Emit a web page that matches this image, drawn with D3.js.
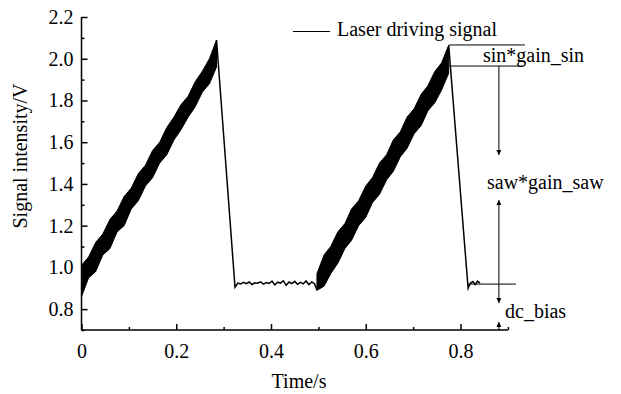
<!DOCTYPE html>
<html>
<head>
<meta charset="utf-8">
<script src="https://cdn.jsdelivr.net/npm/d3@7"></script>
<style>
  body { margin: 0; background: #fff; }
  text { font-family: "Liberation Serif", "Times New Roman", serif; }
</style>
</head>
<body>
<div id="chart"></div>
<script>
// Size of the picture
const width = 621;
const height = 394;

// ramp 1: rising band (upper / lower envelope of the noisy signal)
const ramp1Time  = [0, 0.015, 0.03, 0.045, 0.06, 0.075, 0.09, 0.105, 0.12, 0.135,
  0.15, 0.165, 0.18, 0.195, 0.21, 0.225, 0.24, 0.255, 0.27, 0.285];
const ramp1Upper = [1.01, 1.05, 1.12, 1.16, 1.23, 1.27, 1.34, 1.38, 1.45, 1.49,
  1.56, 1.60, 1.67, 1.72, 1.78, 1.82, 1.89, 1.94, 2.00, 2.09];
const ramp1Lower = [0.86, 0.95, 0.98, 1.06, 1.09, 1.17, 1.20, 1.28, 1.32, 1.39,
  1.43, 1.50, 1.54, 1.61, 1.66, 1.72, 1.77, 1.84, 1.88, 1.96];

// ramp 2
const ramp2Time  = [0.497, 0.512, 0.526, 0.541, 0.556, 0.570, 0.585, 0.600, 0.614, 0.629,
  0.644, 0.658, 0.673, 0.687, 0.702, 0.717, 0.731, 0.746, 0.760, 0.775];
const ramp2Upper = [0.97, 1.06, 1.10, 1.17, 1.21, 1.28, 1.32, 1.39, 1.43, 1.50,
  1.54, 1.61, 1.65, 1.72, 1.76, 1.83, 1.87, 1.94, 1.98, 2.065];
const ramp2Lower = [0.89, 0.91, 0.97, 1.02, 1.09, 1.13, 1.20, 1.24, 1.31, 1.35,
  1.42, 1.46, 1.53, 1.57, 1.64, 1.68, 1.75, 1.79, 1.85, 1.93];

// fall + flat part after ramp 1
const flat1Time = [0.285, 0.324, 0.330, 0.336, 0.342, 0.348, 0.354, 0.360, 0.366, 0.372, 0.378, 0.384, 0.390, 0.396, 0.402,
  0.408, 0.414, 0.420, 0.426, 0.432, 0.438, 0.444, 0.450, 0.456, 0.462, 0.468, 0.474, 0.480, 0.486, 0.492, 0.497];
const flat1Value = [2.09, 0.905, 0.925, 0.921, 0.928, 0.922, 0.930, 0.918, 0.926, 0.924, 0.931, 0.920, 0.927, 0.923, 0.934,
  0.916, 0.929, 0.925, 0.936, 0.914, 0.930, 0.922, 0.933, 0.919, 0.928, 0.921, 0.935, 0.917, 0.930, 0.922, 0.89];

// fall + flat part after ramp 2
const flat2Time  = [0.775, 0.816, 0.821, 0.826, 0.831, 0.836, 0.841];
const flat2Value = [2.065, 0.90, 0.925, 0.932, 0.918, 0.934, 0.925];

// axis ticks
const xTicks = [0, 0.2, 0.4, 0.6, 0.8];
const xMinorTicks = [0.1, 0.3, 0.5, 0.7, 0.9];
const yTicks = [0.8, 1.0, 1.2, 1.4, 1.6, 1.8, 2.0, 2.2];
const yMinorTicks = [0.7, 0.9, 1.1, 1.3, 1.5, 1.7, 1.9, 2.1];

const legendLabel = "Laser driving signal";

const svg = d3.select("#chart")
  .append("svg")
  .attr("width", width)
  .attr("height", height)
  .style("background-color", "#fff");

const x = d3.scaleLinear().domain([0, 0.9]).range([81.5, 507.9]);
const y = d3.scaleLinear().domain([0.7, 2.2]).range([330, 17]);

// markers for arrows
const defs = svg.append("defs");
defs.append("marker")
  .attr("id", "arrow")
  .attr("viewBox", "0 0 10 10")
  .attr("refX", 10).attr("refY", 5)
  .attr("markerWidth", 6).attr("markerHeight", 5)
  .attr("markerUnits", "userSpaceOnUse")
  .attr("orient", "auto-start-reverse")
  .append("path")
  .attr("d", "M0,0 L10,5 L0,10 Z")
  .attr("fill", "#000");

// ramps (filled bands)
function drawBand(times, upper, lower) {
  const rows = times.map((t, i) => ({ t: t, hi: upper[i], lo: lower[i] }));
  svg.append("path")
    .datum(rows)
    .attr("d", d3.area()
      .x(d => x(d.t))
      .y0(d => y(d.lo))
      .y1(d => y(d.hi)))
    .attr("fill", "#000")
    .attr("stroke", "#000")
    .attr("stroke-width", 1);
}
drawBand(ramp1Time, ramp1Upper, ramp1Lower);
drawBand(ramp2Time, ramp2Upper, ramp2Lower);

// falls and flat parts
const line = d3.line().x(d => x(d[0])).y(d => y(d[1]));
[[flat1Time, flat1Value], [flat2Time, flat2Value]].forEach(function(s) {
  svg.append("path")
    .datum(d3.zip(s[0], s[1]))
    .attr("d", line)
    .attr("fill", "none")
    .attr("stroke", "#000")
    .attr("stroke-width", 1.5);
});

// axes
svg.append("g")
  .attr("transform", "translate(0," + y(0.7) + ")")
  .call(d3.axisBottom(x).tickValues(xMinorTicks).tickSize(-3).tickFormat(""))
  .call(g => g.select(".domain").remove());
svg.append("g")
  .attr("transform", "translate(0," + y(0.7) + ")")
  .call(d3.axisBottom(x).tickValues(xTicks).tickSize(-6).tickPadding(14)
    .tickFormat(d => d === 0 ? "0" : d3.format(".1f")(d)))
  .call(g => g.select(".domain").attr("d", "M" + x(0) + ",0H" + x(0.9)).attr("stroke-width", 1.5))
  .call(g => g.selectAll("text").attr("font-size", 20).attr("font-family", "Liberation Serif").attr("fill", "#000"));

svg.append("g")
  .attr("transform", "translate(" + x(0) + ",0)")
  .call(d3.axisLeft(y).tickValues(yMinorTicks).tickSize(-3).tickFormat(""))
  .call(g => g.select(".domain").remove());
svg.append("g")
  .attr("transform", "translate(" + x(0) + ",0)")
  .call(d3.axisLeft(y).tickValues(yTicks).tickSize(-6).tickPadding(8).tickFormat(d3.format(".1f")))
  .call(g => g.select(".domain").attr("d", "M0," + y(2.2) + "V" + y(0.7)).attr("stroke-width", 1.5))
  .call(g => g.selectAll("text").attr("font-size", 20).attr("font-family", "Liberation Serif").attr("fill", "#000"));

svg.selectAll(".tick line").attr("stroke-width", 1.5);

// axis titles
svg.append("text")
  .attr("x", 299).attr("y", 388)
  .attr("text-anchor", "middle")
  .attr("font-size", 20)
  .text("Time/s");

svg.append("text")
  .attr("transform", "translate(27,156) rotate(-90)")
  .attr("text-anchor", "middle")
  .attr("font-size", 20)
  .text("Signal intensity/V");

// legend
svg.append("line")
  .attr("x1", 293).attr("x2", 330)
  .attr("y1", 31.5).attr("y2", 31.5)
  .attr("stroke", "#000").attr("stroke-width", 1);
svg.append("text")
  .attr("x", 337).attr("y", 36)
  .attr("font-size", 20)
  .text(legendLabel);

// annotations
function seg(t1, v1, t2, v2, startArrow, endArrow) {
  const l = svg.append("line")
    .attr("x1", x(t1)).attr("y1", y(v1))
    .attr("x2", x(t2)).attr("y2", y(v2))
    .attr("stroke", "#000").attr("stroke-width", 1);
  if (startArrow) l.attr("marker-start", "url(#arrow)");
  if (endArrow) l.attr("marker-end", "url(#arrow)");
}
seg(0.776, 2.066, 0.936, 2.066);
seg(0.776, 1.965, 0.932, 1.965);
seg(0.881, 1.965, 0.881, 1.539, false, true);
seg(0.881, 1.323, 0.881, 0.829, true, true);
seg(0.816, 0.920, 0.917, 0.920);
seg(0.881, 0.70, 0.881, 0.738, false, true);

svg.append("text")
  .attr("x", 483).attr("y", 62)
  .attr("font-size", 20)
  .text("sin*gain_sin");
svg.append("text")
  .attr("x", 487).attr("y", 189)
  .attr("font-size", 20)
  .text("saw*gain_saw");
svg.append("text")
  .attr("x", 505).attr("y", 318)
  .attr("font-size", 20)
  .text("dc_bias");
</script>
</body>
</html>
